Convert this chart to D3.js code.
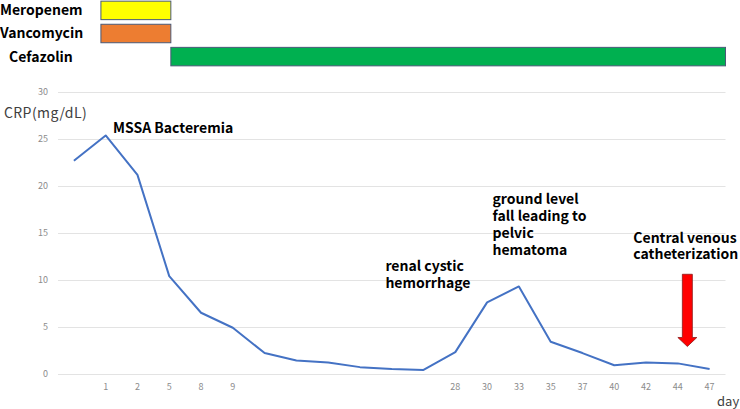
<!DOCTYPE html>
<html><head><meta charset="utf-8">
<script src="https://cdn.jsdelivr.net/npm/d3@7"></script>
<style>body{margin:0;background:#fff}svg{display:block}</style>
</head><body>
<svg id="c" width="740" height="409"></svg>
<script>
// ---- data ----
const categories = ["", "1", "2", "5", "8", "9", "", "", "", "", "", "", "28", "30", "33", "35", "37", "40", "42", "44", "47"];
const crpValues = [22.7, 25.4, 21.2, 10.4, 6.5, 4.9, 2.2, 1.4, 1.2, 0.7, 0.5, 0.4, 2.3, 7.6, 9.3, 3.4, 2.2, 0.9, 1.2, 1.1, 0.5];
const yTicks = [0, 5, 10, 15, 20, 25, 30];
const drugNames = ["Meropenem", "Vancomycin", "Cefazolin"];
const drugStart = [1.35, 1.35, 3.55];   // position in category units
const drugEnd = [3.55, 3.55, 21];
const drugColors = ["#FFFF00", "#ED7D31", "#00B050"];
const annotations = [
  {lines: ["MSSA Bacteremia"], pos: 1.73, val: 26.2},
  {lines: ["renal cystic", "hemorrhage"], pos: 10.3, val: 11.5},
  {lines: ["ground level", "fall leading to", "pelvic", "hematoma"], pos: 13.67, val: 18.6},
  {lines: ["Central venous", "catheterization"], pos: 18.1, val: 14.5}
];
const arrowPos = 19.8, arrowTop = 10.6, arrowTip = 2.9;

// ---- layout ----
const svg = d3.select("#c");
const mLeft = 58, mRight = 725.5, mTop = 92.3, mBottom = 373.7;
const x = d3.scaleBand().domain(d3.range(categories.length)).range([mLeft, mRight]);
const xl = d3.scaleLinear().domain([0, categories.length]).range([mLeft, mRight]);
const y = d3.scaleLinear().domain([0, 30]).range([mBottom, mTop]);
const font = "'Noto Sans CJK JP', 'Noto Sans', sans-serif";

// gridlines
svg.append("g").selectAll("line").data(yTicks).join("line")
  .attr("x1", mLeft).attr("x2", mRight)
  .attr("y1", d => Math.round(y(d)) + 0.5).attr("y2", d => Math.round(y(d)) + 0.5)
  .attr("stroke", "#e3e3e3").attr("stroke-width", 1);

// y tick labels
svg.append("g").selectAll("text").data(yTicks).join("text")
  .attr("x", 48).attr("y", d => y(d)).attr("dy", "0.35em")
  .attr("text-anchor", "end").attr("font-family", font).attr("font-size", 9)
  .attr("fill", "#8c8c8c").text(d => d);

// x tick labels
svg.append("g").selectAll("text").data(categories).join("text")
  .attr("x", (d, i) => x(i) + x.bandwidth() / 2).attr("y", 387).attr("dy", "0.35em")
  .attr("text-anchor", "middle").attr("font-family", font).attr("font-size", 9)
  .attr("fill", "#8c8c8c").text(d => d);

// axis titles
svg.append("text").attr("x", 4).attr("y", 113).attr("dy", "0.35em")
  .attr("font-family", font).attr("font-size", 14).attr("letter-spacing", 0.4)
  .attr("fill", "#404040").text("CRP(mg/dL)");
svg.append("text").attr("x", 717).attr("y", 401).attr("dy", "0.35em")
  .attr("font-family", font).attr("font-size", 13).attr("fill", "#404040").text("day");

// line
const line = d3.line().x((d, i) => x(i) + x.bandwidth() / 2).y(d => y(d));
svg.append("path").datum(crpValues).attr("d", line)
  .attr("fill", "none").attr("stroke", "#4472C4").attr("stroke-width", 2)
  .attr("stroke-linejoin", "round");

// drug bars
const barY = d3.scaleBand().domain(drugNames).range([0, 67]).paddingInner(0.2).paddingOuter(0.05);
svg.append("g").selectAll("rect").data(drugNames).join("rect")
  .attr("x", (d, i) => xl(drugStart[i])).attr("width", (d, i) => xl(drugEnd[i]) - xl(drugStart[i]))
  .attr("y", d => barY(d)).attr("height", barY.bandwidth())
  .attr("fill", (d, i) => drugColors[i]).attr("stroke", "#4a5a78").attr("stroke-width", 1);
svg.append("g").selectAll("text").data(drugNames).join("text")
  .attr("x", (d, i) => i === 2 ? 9 : 0).attr("y", d => barY(d) + barY.bandwidth() / 2).attr("dy", "0.35em")
  .attr("font-family", font).attr("font-weight", "bold").attr("font-size", 14)
  .attr("fill", "#000").text(d => d);

// annotations
annotations.forEach(a => {
  const t = svg.append("text").attr("font-family", font).attr("font-weight", "bold")
    .attr("font-size", 14).attr("fill", "#000");
  a.lines.forEach((l, k) => {
    t.append("tspan").attr("x", xl(a.pos)).attr("y", y(a.val) + k * 16.8).attr("dy", "0.35em").text(l);
  });
});

// arrow
const ax = xl(arrowPos), yt = y(arrowTop), yh = y(arrowTip) - 9, ytip = y(arrowTip);
svg.append("path")
  .attr("d", `M${ax-5},${yt} L${ax+5},${yt} L${ax+5},${yh} L${ax+9.5},${yh} L${ax},${ytip} L${ax-9.5},${yh} L${ax-5},${yh} Z`)
  .attr("fill", "#FF0000").attr("stroke", "#8b1a1a").attr("stroke-width", 0.8);
</script>
</body></html>
